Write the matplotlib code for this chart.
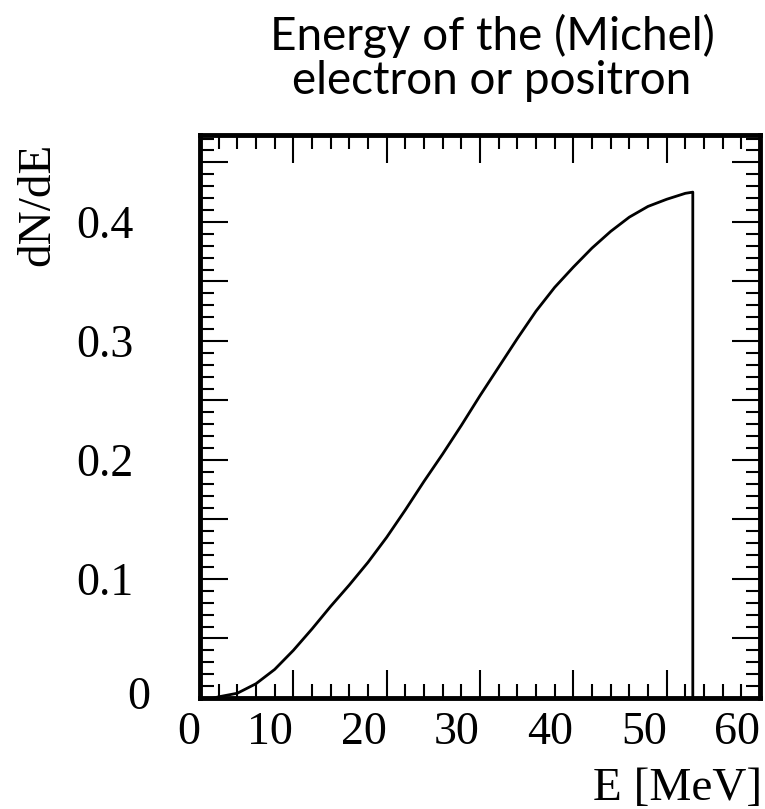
import matplotlib
matplotlib.use("Agg")
import matplotlib.pyplot as plt
from matplotlib.ticker import MultipleLocator, FuncFormatter
from matplotlib.transforms import ScaledTranslation

# Michel electron / positron energy spectrum
energy = [1.5, 2.0, 4.0, 6.0, 8.0, 10.0, 12.0, 14.0, 16.0, 18.0, 20.0, 22.0,
          24.0, 26.0, 28.0, 30.0, 32.0, 34.0, 36.0, 38.0, 40.0, 42.0, 44.0,
          46.0, 48.0, 50.0, 52.0, 52.8, 52.8]
dnde = [0.0, 0.001, 0.004, 0.012, 0.024, 0.040, 0.058, 0.077, 0.095, 0.114,
        0.135, 0.158, 0.182, 0.205, 0.229, 0.254, 0.278, 0.302, 0.325, 0.345,
        0.362, 0.378, 0.392, 0.404, 0.413, 0.419, 0.424, 0.425, 0.0]

title_lines = ["Energy of the (Michel)", "electron or positron"]
x_label = "E [MeV]"
y_label = "dN/dE"

W, H = 765, 809
fig = plt.figure(figsize=(W / 100, H / 100), dpi=100)
ax = fig.add_axes([200 / W, 1 - 698 / H, 560 / W, 563 / H])

ax.plot(energy, dnde, color="black", lw=2)

ax.set_xlim(0, 60)
ax.set_ylim(0, 0.473)

serif = "Liberation Serif"
ax.xaxis.set_major_locator(MultipleLocator(10))
ax.xaxis.set_minor_locator(MultipleLocator(2))
ax.yaxis.set_major_locator(MultipleLocator(0.05))
ax.yaxis.set_minor_locator(MultipleLocator(0.01))


def ylab(v, pos):
    # only every 0.1 gets a label; the "0" is placed by hand below
    if abs(v) < 1e-9:
        return ""
    if abs(v * 10 - round(v * 10)) < 1e-6:
        return f"{v:g}"
    return ""


ax.yaxis.set_major_formatter(FuncFormatter(ylab))
ax.xaxis.set_major_formatter(FuncFormatter(lambda v, p: f"{v:g}"))

ax.tick_params(which="both", direction="in", top=True, right=True,
               width=1.5, color="black")
ax.tick_params(which="major", length=20)
ax.tick_params(which="minor", length=10)
ax.tick_params(axis="x", which="major", pad=10, labelsize=33)
ax.tick_params(axis="y", which="major", pad=48, labelsize=33)

for lbl in ax.get_xticklabels() + ax.get_yticklabels():
    lbl.set_fontfamily(serif)
for lbl in ax.get_xticklabels():
    lbl.set_horizontalalignment("right")

# the y "0" sits further right than the other labels
ax.text(0, 0, "0", ha="right", va="center", fontsize=33, family=serif,
        transform=ax.get_yaxis_transform()
        + ScaledTranslation(-0.50, 0, fig.dpi_scale_trans))

for s in ax.spines.values():
    s.set_linewidth(3.5)

fig.text(762 / W, 1 - 800 / H, x_label, ha="right", va="baseline",
         fontsize=34, family=serif)
fig.text(38 / W, 1 - 143 / H, y_label, ha="center", va="top", rotation=90,
         fontsize=34, family=serif)

fig.text(492 / W, 1 - 50 / H, title_lines[0], ha="center", va="baseline",
         fontsize=33, family="Lato")
fig.text(492 / W, 1 - 94 / H, title_lines[1], ha="center", va="baseline",
         fontsize=33, family="Lato")

fig.savefig("out.png", dpi=100)
